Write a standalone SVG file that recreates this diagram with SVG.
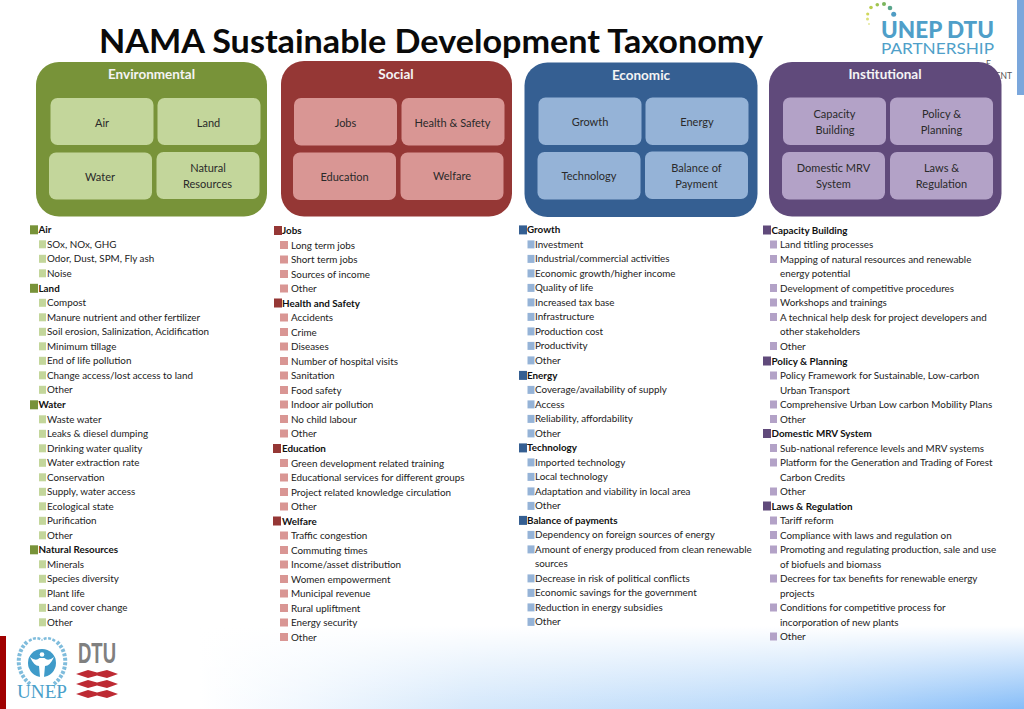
<svg xmlns="http://www.w3.org/2000/svg" width="1024" height="709" viewBox="0 0 1024 709">
<defs>
<linearGradient id="wash" gradientUnits="userSpaceOnUse" x1="200" y1="0" x2="1024" y2="0"><stop offset="0" stop-color="#fff"/><stop offset="0.13" stop-color="#f0f7fe"/><stop offset="0.33" stop-color="#d5e8fb"/><stop offset="0.73" stop-color="#b5d7fa"/><stop offset="1" stop-color="#86bdf8"/></linearGradient>
<linearGradient id="veil" x1="0" y1="0" x2="0" y2="1"><stop offset="0" stop-color="#fff" stop-opacity="1"/><stop offset="1" stop-color="#fff" stop-opacity="0"/></linearGradient>
</defs>
<style>
text{font-family:"Lato","Liberation Sans",sans-serif;fill:#222}
.t{font-size:33px;font-weight:700;fill:#0a0a0a}
.h{font-size:13.5px;font-weight:700;fill:#f4f4f4;text-anchor:middle}
.b{font-size:11px;text-anchor:middle;fill:#2a2a2a}
.l{font-size:9.85px}
.g{font-size:9.85px;font-weight:700;fill:#111}
.pg{fill:#789339}.pr{fill:#953735}.pb{fill:#355f92}.pp{fill:#604a7b}
.lg{fill:#c3d69b}.lr{fill:#d99694}.lb{fill:#95b3d7}.lp{fill:#b3a2c7}
</style>
<rect width="1024" height="709" fill="#fff"/>
<rect x="200" y="626" width="824" height="83" fill="url(#wash)"/>
<rect x="200" y="626" width="824" height="83" fill="url(#veil)"/>
<rect x="1017" y="0" width="7" height="95" fill="#7ba7dc"/>
<rect x="0" y="636" width="6" height="73" fill="#a00000"/>
<text class="t" x="99" y="53" textLength="664" lengthAdjust="spacingAndGlyphs">NAMA Sustainable Development Taxonomy</text>
<g id="logo-partnership">
<circle cx="893.700" cy="14.300" r="2.500" fill="#4f9cc4"/><circle cx="890" cy="8" r="2.300" fill="#5aa58c"/><circle cx="884" cy="4" r="2" fill="#7ab55c"/><circle cx="877.300" cy="4.700" r="1.800" fill="#9fc450"/><circle cx="871" cy="7.500" r="1.800" fill="#b9cd4f"/><circle cx="867.700" cy="14" r="1.600" fill="#cfd75a"/><circle cx="867.500" cy="19" r="1.500" fill="#dbe07a"/><circle cx="869" cy="24" r="1" fill="#e4e79a"/>
<text x="881" y="38" font-size="22" font-weight="900" style="fill:#4f9fc9" textLength="113" lengthAdjust="spacingAndGlyphs">UNEP DTU</text>
<text x="881" y="53.500" font-size="15" style="fill:#4f9fc9" textLength="113" lengthAdjust="spacingAndGlyphs">PARTNERSHIP</text>
<text x="991" y="67" font-size="8.500" style="fill:#555" text-anchor="end">E</text>
<text x="1012" y="79" font-size="8.500" style="fill:#555;text-anchor:end">ENT</text>
</g>
<g id="environmental">
<rect class="pg" x="36" y="62" width="231" height="154.500" rx="23"/>
<text class="h" x="151.500" y="78.500">Environmental</text>
<rect class="lg" x="50.500" y="98" width="103" height="47" rx="7"/><text class="b" x="102" y="127">Air</text>
<rect class="lg" x="157.500" y="98" width="103" height="47" rx="7"/><text class="b" x="208.500" y="127">Land</text>
<rect class="lg" x="49" y="152.500" width="103" height="47" rx="7"/><text class="b" x="100" y="181">Water</text>
<rect class="lg" x="156.500" y="152" width="103" height="47" rx="7"/><text class="b" x="208" y="172">Natural</text><text class="b" x="207.500" y="188">Resources</text>
</g>
<g id="social">
<rect class="pr" x="281" y="61" width="231" height="155.500" rx="23"/>
<text class="h" x="396" y="78.500">Social</text>
<rect class="lr" x="294" y="98" width="103" height="47.500" rx="7"/><text class="b" x="345.500" y="127">Jobs</text>
<rect class="lr" x="401.500" y="98" width="103" height="47.500" rx="7"/><text class="b" x="452.500" y="127">Health &amp; Safety</text>
<rect class="lr" x="293" y="152.500" width="103" height="47.500" rx="7"/><text class="b" x="344.500" y="181">Education</text>
<rect class="lr" x="400.500" y="152.500" width="103" height="47.500" rx="7"/><text class="b" x="452" y="180">Welfare</text>
</g>
<g id="economic">
<rect class="pb" x="524.500" y="62.500" width="233" height="154.500" rx="23"/>
<text class="h" x="641" y="79.500">Economic</text>
<rect class="lb" x="538.500" y="97.500" width="103" height="47.500" rx="7"/><text class="b" x="590" y="126">Growth</text>
<rect class="lb" x="645.500" y="97.500" width="103" height="47.500" rx="7"/><text class="b" x="697" y="126">Energy</text>
<rect class="lb" x="537.500" y="152" width="103" height="47.500" rx="7"/><text class="b" x="589" y="180">Technology</text>
<rect class="lb" x="645" y="151.500" width="103" height="47.500" rx="7"/><text class="b" x="696.500" y="172">Balance of</text><text class="b" x="696.500" y="188">Payment</text>
</g>
<g id="institutional">
<rect class="pp" x="769" y="62" width="232.500" height="154.500" rx="23"/>
<text class="h" x="885" y="78.500">Institutional</text>
<rect class="lp" x="783" y="97.500" width="103" height="47.500" rx="7"/><text class="b" x="834.500" y="118">Capacity</text><text class="b" x="835" y="134">Building</text>
<rect class="lp" x="890" y="97.500" width="103" height="47.500" rx="7"/><text class="b" x="941.500" y="118">Policy &amp;</text><text class="b" x="941.500" y="134">Planning</text>
<rect class="lp" x="782" y="152" width="103" height="47.500" rx="7"/><text class="b" x="833.500" y="172">Domestic MRV</text><text class="b" x="833.500" y="188">System</text>
<rect class="lp" x="890" y="152" width="103" height="47.500" rx="7"/><text class="b" x="941.500" y="172">Laws &amp;</text><text class="b" x="941.500" y="188">Regulation</text>
</g>
<g id="list-environmental" transform="translate(0,-0.7)">
<rect class="pg" x="30" y="226" width="8" height="9"/><text class="g" x="38.500" y="234">Air</text>
<rect class="lg" x="39" y="241" width="7" height="8"/><text class="l" x="47" y="248.500">SOx, NOx, GHG</text>
<rect class="lg" x="39" y="255.500" width="7" height="8"/><text class="l" x="47" y="263">Odor, Dust, SPM, Fly ash</text>
<rect class="lg" x="39" y="270" width="7" height="8"/><text class="l" x="47" y="277.500">Noise</text>
<rect class="pg" x="30" y="284.500" width="8" height="9"/><text class="g" x="38.500" y="292.500">Land</text>
<rect class="lg" x="39" y="299.500" width="7" height="8"/><text class="l" x="47" y="307">Compost</text>
<rect class="lg" x="39" y="314" width="7" height="8"/><text class="l" x="47" y="321.500">Manure nutrient and other fertilizer</text>
<rect class="lg" x="39" y="328.500" width="7" height="8"/><text class="l" x="47" y="336">Soil erosion, Salinization, Acidification</text>
<rect class="lg" x="39" y="343" width="7" height="8"/><text class="l" x="47" y="350.500">Minimum tillage</text>
<rect class="lg" x="39" y="357.500" width="7" height="8"/><text class="l" x="47" y="365">End of life pollution</text>
<rect class="lg" x="39" y="372" width="7" height="8"/><text class="l" x="47" y="379.500">Change access/lost access to land</text>
<rect class="lg" x="39" y="386.500" width="7" height="8"/><text class="l" x="47" y="394">Other</text>
<rect class="pg" x="30" y="401" width="8" height="9"/><text class="g" x="38.500" y="409">Water</text>
<rect class="lg" x="39" y="416" width="7" height="8"/><text class="l" x="47" y="423.500">Waste water</text>
<rect class="lg" x="39" y="430.500" width="7" height="8"/><text class="l" x="47" y="438">Leaks &amp; diesel dumping</text>
<rect class="lg" x="39" y="445" width="7" height="8"/><text class="l" x="47" y="452.500">Drinking water quality</text>
<rect class="lg" x="39" y="459.500" width="7" height="8"/><text class="l" x="47" y="467">Water extraction rate</text>
<rect class="lg" x="39" y="474" width="7" height="8"/><text class="l" x="47" y="481.500">Conservation</text>
<rect class="lg" x="39" y="488.500" width="7" height="8"/><text class="l" x="47" y="496">Supply, water access</text>
<rect class="lg" x="39" y="503" width="7" height="8"/><text class="l" x="47" y="510.500">Ecological state</text>
<rect class="lg" x="39" y="517.500" width="7" height="8"/><text class="l" x="47" y="525">Purification</text>
<rect class="lg" x="39" y="532" width="7" height="8"/><text class="l" x="47" y="539.500">Other</text>
<rect class="pg" x="30" y="546" width="8" height="9"/><text class="g" x="38.500" y="554">Natural Resources</text>
<rect class="lg" x="39" y="561" width="7" height="8"/><text class="l" x="47" y="568.500">Minerals</text>
<rect class="lg" x="39" y="575.500" width="7" height="8"/><text class="l" x="47" y="583">Species diversity</text>
<rect class="lg" x="39" y="590" width="7" height="8"/><text class="l" x="47" y="597.500">Plant life</text>
<rect class="lg" x="39" y="604.500" width="7" height="8"/><text class="l" x="47" y="612">Land cover change</text>
<rect class="lg" x="39" y="619" width="7" height="8"/><text class="l" x="47" y="626.500">Other</text>
</g>
<g id="list-social" transform="translate(0,-1)">
<rect class="pr" x="274" y="227" width="8" height="9"/><text class="g" x="282" y="235">Jobs</text>
<rect class="lr" x="280" y="242" width="8" height="8"/><text class="l" x="291" y="249.500">Long term jobs</text>
<rect class="lr" x="280" y="256.500" width="8" height="8"/><text class="l" x="291" y="264">Short term jobs</text>
<rect class="lr" x="280" y="271" width="8" height="8"/><text class="l" x="291" y="278.500">Sources of income</text>
<rect class="lr" x="280" y="285.500" width="8" height="8"/><text class="l" x="291" y="293">Other</text>
<rect class="pr" x="274" y="299.500" width="8" height="9"/><text class="g" x="282" y="307.500">Health and Safety</text>
<rect class="lr" x="280" y="314.500" width="8" height="8"/><text class="l" x="291" y="322">Accidents</text>
<rect class="lr" x="280" y="329" width="8" height="8"/><text class="l" x="291" y="336.500">Crime</text>
<rect class="lr" x="280" y="343.500" width="8" height="8"/><text class="l" x="291" y="351">Diseases</text>
<rect class="lr" x="280" y="358" width="8" height="8"/><text class="l" x="291" y="365.500">Number of hospital visits</text>
<rect class="lr" x="280" y="372.500" width="8" height="8"/><text class="l" x="291" y="380">Sanitation</text>
<rect class="lr" x="280" y="387" width="8" height="8"/><text class="l" x="291" y="394.500">Food safety</text>
<rect class="lr" x="280" y="401.500" width="8" height="8"/><text class="l" x="291" y="409">Indoor air pollution</text>
<rect class="lr" x="280" y="416" width="8" height="8"/><text class="l" x="291" y="423.500">No child labour</text>
<rect class="lr" x="280" y="430.500" width="8" height="8"/><text class="l" x="291" y="438">Other</text>
<rect class="pr" x="273" y="445" width="8" height="9"/><text class="g" x="282" y="453">Education</text>
<rect class="lr" x="280" y="460" width="8" height="8"/><text class="l" x="291" y="467.500">Green development related training</text>
<rect class="lr" x="280" y="474.500" width="8" height="8"/><text class="l" x="291" y="482">Educational services for different groups</text>
<rect class="lr" x="280" y="489" width="8" height="8"/><text class="l" x="291" y="496.500">Project related knowledge circulation</text>
<rect class="lr" x="280" y="503.500" width="8" height="8"/><text class="l" x="291" y="511">Other</text>
<rect class="pr" x="273" y="517.500" width="8" height="9"/><text class="g" x="282" y="525.500">Welfare</text>
<rect class="lr" x="280" y="532.500" width="8" height="8"/><text class="l" x="291" y="540">Traffic congestion</text>
<rect class="lr" x="280" y="547" width="8" height="8"/><text class="l" x="291" y="554.500">Commuting times</text>
<rect class="lr" x="280" y="561.500" width="8" height="8"/><text class="l" x="291" y="569">Income/asset distribution</text>
<rect class="lr" x="280" y="576" width="8" height="8"/><text class="l" x="291" y="583.500">Women empowerment</text>
<rect class="lr" x="280" y="590.500" width="8" height="8"/><text class="l" x="291" y="598">Municipal revenue</text>
<rect class="lr" x="280" y="605" width="8" height="8"/><text class="l" x="291" y="612.500">Rural upliftment</text>
<rect class="lr" x="280" y="619.500" width="8" height="8"/><text class="l" x="291" y="627">Energy security</text>
<rect class="lr" x="280" y="634" width="8" height="8"/><text class="l" x="291" y="641.500">Other</text>
</g>
<g id="list-economic" transform="translate(0,-0.6)">
<rect class="pb" x="519" y="226" width="8" height="9"/><text class="g" x="527" y="234">Growth</text>
<rect class="lb" x="527.500" y="241" width="7" height="8"/><text class="l" x="535" y="248.500">Investment</text>
<rect class="lb" x="527.500" y="255.500" width="7" height="8"/><text class="l" x="535" y="263">Industrial/commercial activities</text>
<rect class="lb" x="527.500" y="270" width="7" height="8"/><text class="l" x="535" y="277.500">Economic growth/higher income</text>
<rect class="lb" x="527.500" y="284.500" width="7" height="8"/><text class="l" x="535" y="292">Quality of life</text>
<rect class="lb" x="527.500" y="299" width="7" height="8"/><text class="l" x="535" y="306.500">Increased tax base</text>
<rect class="lb" x="527.500" y="313.500" width="7" height="8"/><text class="l" x="535" y="321">Infrastructure</text>
<rect class="lb" x="527.500" y="328" width="7" height="8"/><text class="l" x="535" y="335.500">Production cost</text>
<rect class="lb" x="527.500" y="342.500" width="7" height="8"/><text class="l" x="535" y="350">Productivity</text>
<rect class="lb" x="527.500" y="357" width="7" height="8"/><text class="l" x="535" y="364.500">Other</text>
<rect class="pb" x="519" y="371.500" width="8" height="9"/><text class="g" x="527" y="379.500">Energy</text>
<rect class="lb" x="527.500" y="386.500" width="7" height="8"/><text class="l" x="535" y="394">Coverage/availability of supply</text>
<rect class="lb" x="527.500" y="401" width="7" height="8"/><text class="l" x="535" y="408.500">Access</text>
<rect class="lb" x="527.500" y="415.500" width="7" height="8"/><text class="l" x="535" y="423">Reliability, affordability</text>
<rect class="lb" x="527.500" y="430" width="7" height="8"/><text class="l" x="535" y="437.500">Other</text>
<rect class="pb" x="519" y="444" width="8" height="9"/><text class="g" x="527" y="452">Technology</text>
<rect class="lb" x="527.500" y="459" width="7" height="8"/><text class="l" x="535" y="466.500">Imported technology</text>
<rect class="lb" x="527.500" y="473.500" width="7" height="8"/><text class="l" x="535" y="481">Local technology</text>
<rect class="lb" x="527.500" y="488" width="7" height="8"/><text class="l" x="535" y="495.500">Adaptation and viability in local area</text>
<rect class="lb" x="527.500" y="502.500" width="7" height="8"/><text class="l" x="535" y="510">Other</text>
<rect class="pb" x="519" y="516.500" width="8" height="9"/><text class="g" x="527" y="524.500">Balance of payments</text>
<rect class="lb" x="527.500" y="531.500" width="7" height="8"/><text class="l" x="535" y="539">Dependency on foreign sources of energy</text>
<rect class="lb" x="527.500" y="546" width="7" height="8"/><text class="l" x="535" y="553.500">Amount of energy produced from clean renewable</text>
<text class="l" x="535" y="568">sources</text>
<rect class="lb" x="527.500" y="575" width="7" height="8"/><text class="l" x="535" y="582.500">Decrease in risk of political conflicts</text>
<rect class="lb" x="527.500" y="589.500" width="7" height="8"/><text class="l" x="535" y="597">Economic savings for the government</text>
<rect class="lb" x="527.500" y="604" width="7" height="8"/><text class="l" x="535" y="611.500">Reduction in energy subsidies</text>
<rect class="lb" x="527.500" y="618.500" width="7" height="8"/><text class="l" x="535" y="626">Other</text>
</g>
<g id="list-institutional" transform="translate(0,-0.5)">
<rect class="pp" x="763" y="226" width="8" height="9"/><text class="g" x="771.500" y="234">Capacity Building</text>
<rect class="lp" x="770" y="241" width="7" height="8"/><text class="l" x="780" y="248.500">Land titling processes</text>
<rect class="lp" x="770" y="255.500" width="7" height="8"/><text class="l" x="780" y="263">Mapping of natural resources and renewable</text>
<text class="l" x="780" y="277.500">energy potential</text>
<rect class="lp" x="770" y="284.500" width="7" height="8"/><text class="l" x="780" y="292">Development of competitive procedures</text>
<rect class="lp" x="770" y="299" width="7" height="8"/><text class="l" x="780" y="306.500">Workshops and trainings</text>
<rect class="lp" x="770" y="313.500" width="7" height="8"/><text class="l" x="780" y="321">A technical help desk for project developers and</text>
<text class="l" x="780" y="335.500">other stakeholders</text>
<rect class="lp" x="770" y="342.500" width="7" height="8"/><text class="l" x="780" y="350">Other</text>
<rect class="pp" x="763" y="357" width="8" height="9"/><text class="g" x="771.500" y="365">Policy &amp; Planning</text>
<rect class="lp" x="770" y="372" width="7" height="8"/><text class="l" x="780" y="379.500">Policy Framework for Sustainable, Low-carbon</text>
<text class="l" x="780" y="394">Urban Transport</text>
<rect class="lp" x="770" y="401" width="7" height="8"/><text class="l" x="780" y="408.500">Comprehensive Urban Low carbon Mobility Plans</text>
<rect class="lp" x="770" y="415.500" width="7" height="8"/><text class="l" x="780" y="423">Other</text>
<rect class="pp" x="763" y="429.500" width="8" height="9"/><text class="g" x="771.500" y="437.500">Domestic MRV System</text>
<rect class="lp" x="770" y="444.500" width="7" height="8"/><text class="l" x="780" y="452">Sub-national reference levels and MRV systems</text>
<rect class="lp" x="770" y="459" width="7" height="8"/><text class="l" x="780" y="466.500">Platform for the Generation and Trading of Forest</text>
<text class="l" x="780" y="481">Carbon Credits</text>
<rect class="lp" x="770" y="488" width="7" height="8"/><text class="l" x="780" y="495.500">Other</text>
<rect class="pp" x="763" y="502" width="8" height="9"/><text class="g" x="771.500" y="510">Laws &amp; Regulation</text>
<rect class="lp" x="770" y="517" width="7" height="8"/><text class="l" x="780" y="524.500">Tariff reform</text>
<rect class="lp" x="770" y="531.500" width="7" height="8"/><text class="l" x="780" y="539">Compliance with laws and regulation on</text>
<rect class="lp" x="770" y="546" width="7" height="8"/><text class="l" x="780" y="553.500">Promoting and regulating production, sale and use</text>
<text class="l" x="780" y="568">of biofuels and biomass</text>
<rect class="lp" x="770" y="575" width="7" height="8"/><text class="l" x="780" y="582.500">Decrees for tax benefits for renewable energy</text>
<text class="l" x="780" y="597">projects</text>
<rect class="lp" x="770" y="604" width="7" height="8"/><text class="l" x="780" y="611.500">Conditions for competitive process for</text>
<text class="l" x="780" y="626">incorporation of new plants</text>
<rect class="lp" x="770" y="633" width="7" height="8"/><text class="l" x="780" y="640.500">Other</text>
</g>
<g id="logo-unep">
<path d="M27 642C16 652 15 672 30 684M57 642C68 652 69 672 54 684" fill="none" stroke="#7fbcdc" stroke-width="4" stroke-dasharray="3 1.500"/>
<path d="M29 641Q36 636 42 640M55 641Q48 636 42 640" fill="none" stroke="#7fbcdc" stroke-width="2.500" stroke-dasharray="3 1.500"/>
<circle cx="42" cy="663" r="14" fill="#3f9bc9"/>
<circle cx="42" cy="654.500" r="2.300" fill="#fff"/>
<path d="M30 657Q36 662 39.500 658L44.500 658Q48 662 54 657Q50 666 45 666L44 677L40 677L39 666Q34 666 30 657Z" fill="#fff"/>
<text x="17" y="698" font-size="18" style="font-family:'Liberation Serif',serif;fill:#4a9fca" textLength="50" lengthAdjust="spacingAndGlyphs">UNEP</text>
<text x="78" y="663" font-size="29" font-weight="700" style="fill:#808080;font-family:'Liberation Sans',sans-serif" textLength="38" lengthAdjust="spacingAndGlyphs">DTU</text>
<path id="dtu-w1" d="M76 674L88 670L97 672.500L107 670L118 674L107 678L97 675.500L88 678Z" fill="#bd2a33"/>
<path d="M76 684L88 680L97 682.500L107 680L118 684L107 688L97 685.500L88 688Z" fill="#bd2a33"/>
<path d="M76 694L88 690L97 692.500L107 690L118 694L107 698L97 695.500L88 698Z" fill="#bd2a33"/>
</g>
</svg>
